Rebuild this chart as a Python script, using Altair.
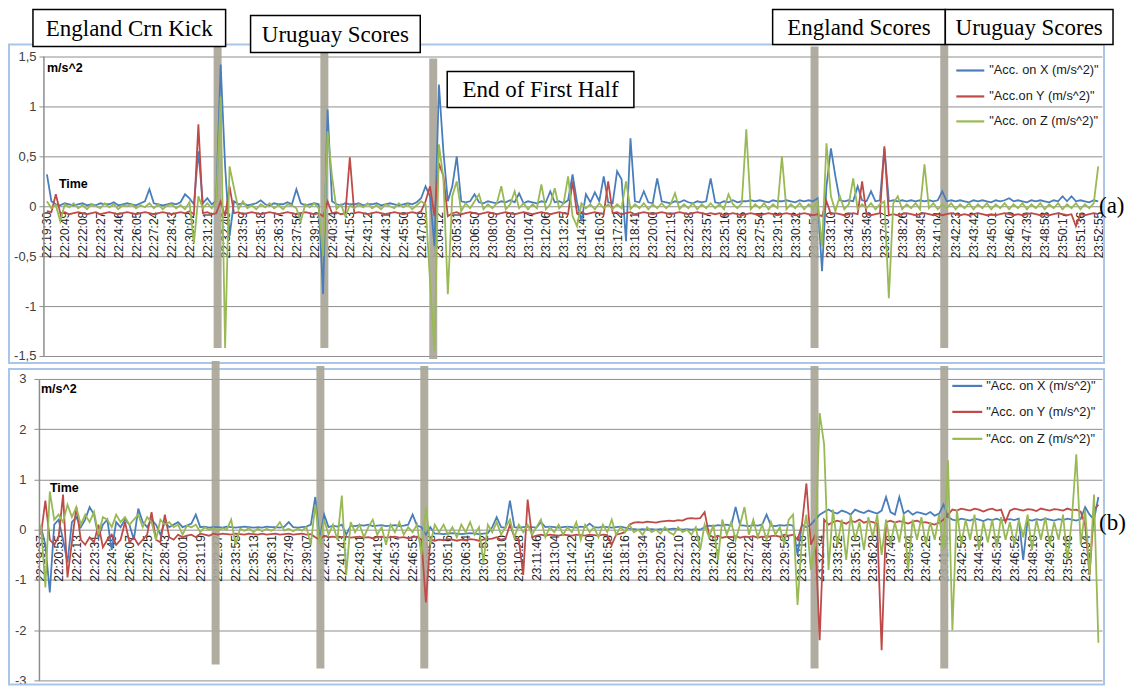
import altair as alt
import pandas as pd

# ------------------------------------------------------------------ data
TOP_TIME_LABELS = ["22:19:30", "22:20:49", "22:22:08", "22:23:27", "22:24:46", "22:26:05", "22:27:24",
                   "22:28:43", "22:30:02", "22:31:21", "22:32:40", "22:33:59", "22:35:18", "22:36:37",
                   "22:37:56", "22:39:15", "22:40:34", "22:41:53", "22:43:12", "22:44:31", "22:45:50",
                   "22:47:09", "23:04:12", "23:05:31", "23:06:50", "23:08:09", "23:09:28", "23:10:47",
                   "23:12:06", "23:13:25", "23:14:44", "23:16:03", "23:17:22", "23:18:41", "23:20:00",
                   "23:21:19", "23:22:38", "23:23:57", "23:25:16", "23:26:35", "23:27:54", "23:29:13",
                   "23:30:32", "23:31:51", "23:33:10", "23:34:29", "23:35:48", "23:37:07", "23:38:26",
                   "23:39:45", "23:41:04", "23:42:23", "23:43:42", "23:45:01", "23:46:20", "23:47:39",
                   "23:48:58", "23:50:17", "23:51:36", "23:52:55"]
BOT_TIME_LABELS = ["22:19:37", "22:20:55", "22:22:13", "22:23:31", "22:24:49", "22:26:07", "22:27:25",
                   "22:28:43", "22:30:01", "22:31:19", "22:32:37", "22:33:55", "22:35:13", "22:36:31",
                   "22:37:49", "22:39:07", "22:40:25", "22:41:43", "22:43:01", "22:44:19", "22:45:37",
                   "22:46:55", "23:03:58", "23:05:16", "23:06:34", "23:07:52", "23:09:10", "23:10:28",
                   "23:11:46", "23:13:04", "23:14:22", "23:15:40", "23:16:58", "23:18:16", "23:19:34",
                   "23:20:52", "23:22:10", "23:23:28", "23:24:46", "23:26:04", "23:27:22", "23:28:40",
                   "23:29:58", "23:31:16", "23:32:34", "23:33:52", "23:35:10", "23:36:28", "23:37:46",
                   "23:39:04", "23:40:22", "23:41:40", "23:42:58", "23:44:16", "23:45:34", "23:46:52",
                   "23:48:10", "23:49:28", "23:50:46", "23:52:04"]

TOP_SERIES = ['"Acc. on X (m/s^2)"', '"Acc.on Y (m/s^2)"', '"Acc. on Z (m/s^2)"']
BOT_SERIES = ['"Acc. on X (m/s^2)"', '"Acc. on Y (m/s^2)"', '"Acc. on Z (m/s^2)"']

TOP_Y_LABELS = ["-1,5", "-1", "-0,5", "0", "0,5", "1", "1,5"]
TOP_Y_VALUES = [-1.5, -1.0, -0.5, 0.0, 0.5, 1.0, 1.5]
BOT_Y_LABELS = ["-3", "-2", "-1", "0", "1", "2", "3"]
BOT_Y_VALUES = [-3, -2, -1, 0, 1, 2, 3]

SAMPLES_PER_LABEL = 4

TOP_X = [0.32, 0.05, 0.02, 0.01, 0.03, 0.02, 0.01, 0.02, 0.03, 0.01,
         0.02, 0.01, 0.03, 0.02, 0.02, 0.04, 0.01, 0.02, 0.03, 0.02,
         0.01, 0.03, 0.05, 0.17, 0.03, 0.02, 0.01, 0.02, 0.03, 0.02,
         0.04, 0.12, 0.08, 0.02, 0.55, 0.03, 0.08, 0.02, 0.05, 1.42,
         0.40, -0.30, 0.05, 0.02, 0.03, 0.01, 0.02, 0.03, 0.06, 0.02,
         0.01, 0.03, 0.02, 0.02, 0.04, 0.02, 0.17, 0.03, 0.01, 0.02,
         0.03, 0.02, -0.88, 0.97, 0.05, 0.02, 0.01, 0.03, 0.02, 0.02,
         0.03, 0.01, 0.02, 0.02, 0.03, 0.01, 0.02, 0.03, 0.02, 0.01,
         0.02, 0.03, 0.02, 0.04, 0.08, 0.20, 0.10, -0.40, 1.22, 0.55,
         0.05, 0.20, 0.50, 0.05, 0.04, 0.05, 0.12, 0.04, 0.03, 0.05,
         0.04, 0.03, 0.05, 0.04, 0.06, 0.04, 0.13, 0.03, 0.05, 0.04,
         0.03, 0.05, 0.04, 0.15, 0.04, 0.05, 0.03, 0.06, 0.32, 0.04,
         -0.15, 0.12, 0.04, 0.14, 0.05, 0.30, 0.04, 0.03, 0.35, 0.27,
         -0.35, 0.68, 0.05, 0.04, 0.15, 0.04, 0.03, 0.28, 0.05, 0.04,
         0.03, 0.05, 0.04, 0.06, 0.04, 0.03, 0.05, 0.04, 0.05, 0.28,
         0.04, 0.03, 0.05, 0.04, 0.06, 0.04, 0.05, 0.05, 0.06, 0.05,
         0.06, 0.05, 0.04, 0.06, 0.05, 0.05, 0.06, 0.05, 0.04, 0.06,
         0.05, 0.06, 0.05, 0.08, -0.65, 0.20, 0.58, 0.30, 0.06, 0.05,
         0.06, 0.05, 0.20, 0.06, 0.05, 0.15, 0.05, 0.06, 0.58, 0.05,
         0.06, 0.05, 0.06, 0.05, 0.06, 0.05, 0.06, 0.05, 0.06, 0.05,
         0.06, 0.15, 0.05, 0.06, 0.05, 0.06, 0.05, 0.04, 0.06, 0.05,
         0.06, 0.05, 0.04, 0.06, 0.05, 0.06, 0.08, 0.05, 0.06, 0.05,
         0.04, 0.06, 0.05, 0.06, 0.05, 0.04, 0.06, 0.05, 0.10, 0.05,
         0.10, 0.05, 0.06, 0.05, 0.04, 0.06, 0.05]
TOP_Y = [-0.05, -0.06, 0.12, -0.07, -0.06, -0.08, -0.07, -0.06, -0.07, -0.08,
         -0.07, -0.06, -0.08, -0.07, -0.06, -0.07, -0.08, -0.07, -0.06, -0.07,
         -0.08, -0.07, -0.06, -0.07, -0.08, -0.07, -0.06, -0.07, -0.08, -0.07,
         -0.06, -0.07, -0.05, -0.08, 0.82, -0.07, -0.06, -0.08, -0.07, 0.05,
         -0.10, 0.20, -0.07, -0.06, -0.08, -0.07, -0.06, -0.07, -0.08, -0.07,
         -0.06, -0.07, -0.08, -0.07, -0.06, -0.07, -0.08, -0.07, -0.06, -0.07,
         -0.08, -0.07, -0.10, 0.05, -0.07, -0.06, -0.08, -0.07, 0.49, -0.07,
         -0.06, -0.07, -0.08, -0.07, -0.06, -0.07, -0.08, -0.07, -0.06, -0.07,
         -0.08, -0.07, -0.06, -0.07, -0.05, 0.05, 0.20, -0.10, 0.43, 0.30,
         -0.10, -0.07, -0.06, -0.08, -0.07, -0.06, -0.07, -0.08, -0.07, -0.06,
         -0.07, -0.08, -0.07, -0.06, -0.07, -0.08, -0.07, -0.06, -0.07, -0.08,
         -0.07, -0.06, -0.07, -0.08, -0.07, -0.06, -0.07, -0.08, 0.25, -0.07,
         -0.06, -0.08, -0.07, -0.06, -0.07, -0.08, 0.25, -0.07, -0.06, -0.08,
         -0.07, -0.06, -0.08, -0.07, -0.06, -0.07, -0.08, -0.07, -0.06, -0.07,
         -0.08, -0.07, -0.06, -0.07, -0.08, -0.07, -0.06, -0.07, -0.08, -0.07,
         -0.08, -0.07, -0.09, -0.08, -0.07, -0.08, -0.09, -0.08, -0.07, -0.08,
         -0.09, -0.08, -0.07, -0.08, -0.09, -0.08, -0.07, -0.08, -0.09, -0.08,
         -0.07, -0.08, -0.09, -0.08, -0.10, 0.05, -0.08, -0.07, -0.08, -0.09,
         -0.08, -0.07, -0.08, 0.25, -0.08, -0.09, -0.08, -0.07, 0.60, -0.09,
         -0.08, -0.09, -0.08, -0.07, -0.08, -0.09, -0.08, -0.07, -0.08, -0.09,
         -0.08, -0.09, -0.08, -0.07, -0.08, -0.09, -0.08, -0.09, -0.08, -0.07,
         -0.08, -0.09, -0.08, -0.09, -0.08, -0.07, -0.08, -0.09, -0.08, -0.09,
         -0.08, -0.07, -0.08, -0.09, -0.08, -0.09, -0.08, -0.07, -0.08, -0.09,
         -0.08, -0.20, -0.08, -0.09, -0.08, -0.07, -0.08]
TOP_Z = [0.05, -0.02, 0.01, -0.15, 0.02, -0.01, 0.03, -0.02, 0.01, -0.03,
         0.02, 0.00, -0.02, 0.03, -0.01, 0.02, -0.03, 0.01, 0.00, 0.02,
         -0.02, 0.01, -0.01, 0.03, -0.02, 0.02, -0.03, 0.01, 0.02, -0.02,
         0.01, -0.03, 0.04, -0.37, 0.10, -0.02, 0.03, -0.02, 0.05, 1.10,
         -1.42, 0.40, 0.18, -0.03, 0.05, -0.02, 0.01, -0.03, 0.02, -0.01,
         0.03, -0.02, 0.01, -0.03, 0.02, 0.01, -0.02, -0.15, 0.02, -0.01,
         0.03, -0.02, -0.50, 0.75, 0.30, -0.03, 0.02, -0.10, 0.01, -0.02,
         0.02, -0.01, 0.03, -0.02, 0.01, -0.03, 0.02, 0.00, -0.02, 0.03,
         -0.01, 0.02, -0.03, 0.01, 0.05, 0.02, -0.75, -1.45, 0.62, 0.28,
         -0.88, 0.10, 0.25, -0.05, 0.03, -0.02, 0.05, 0.12, -0.03, 0.02,
         -0.02, 0.03, 0.20, -0.03, 0.02, 0.15, -0.02, 0.03, -0.03, 0.02,
         -0.02, 0.22, -0.03, 0.02, 0.18, -0.02, 0.03, 0.30, -0.10, -0.20,
         0.03, -0.02, 0.02, -0.03, 0.03, -0.02, 0.02, -0.03, 0.02, -0.02,
         0.25, -0.03, 0.02, -0.02, 0.03, -0.03, 0.02, -0.02, 0.03, -0.02,
         0.02, 0.13, -0.03, 0.02, -0.02, 0.03, -0.03, 0.02, -0.02, 0.03,
         -0.02, 0.02, -0.03, 0.12, 0.02, -0.02, 0.03, 0.77, -0.03, 0.02,
         -0.02, 0.03, -0.03, 0.02, -0.02, 0.50, -0.03, 0.02, -0.02, 0.03,
         -0.03, 0.02, -0.02, 0.05, -0.40, 0.63, 0.10, -0.05, 0.10, -0.03,
         0.02, 0.28, -0.03, 0.02, -0.02, 0.03, -0.03, 0.02, 0.05, -0.92,
         0.03, 0.10, -0.03, 0.02, -0.02, 0.03, -0.03, 0.42, -0.02, 0.03,
         -0.03, 0.02, -0.02, 0.03, -0.03, 0.02, -0.02, 0.03, -0.03, 0.02,
         -0.02, 0.03, -0.03, 0.02, -0.02, 0.03, -0.03, 0.02, -0.02, 0.03,
         -0.03, 0.02, -0.02, 0.03, -0.03, 0.02, -0.02, 0.03, -0.03, 0.02,
         -0.02, 0.03, -0.03, 0.02, -0.02, 0.03, 0.40]

BOT_X = [0.05, -0.30, -1.25, 0.10, 0.20, -0.20, -0.65, 0.15, 0.25, 0.05,
         0.20, 0.45, 0.30, -0.15, 0.10, 0.20, -0.40, 0.15, 0.05, 0.20,
         0.10, -0.20, 0.42, 0.15, 0.05, 0.20, 0.10, -0.10, 0.15, 0.05,
         0.10, 0.15, 0.05, 0.08, 0.12, 0.30, 0.05, 0.06, 0.04, 0.05,
         0.05, 0.04, 0.06, 0.05, 0.04, 0.05, 0.06, 0.05, 0.04, 0.05,
         0.04, 0.06, 0.05, 0.05, 0.04, 0.06, 0.15, 0.05, 0.04, 0.05,
         0.06, 0.10, 0.65, -0.20, 0.30, 0.05, 0.08, 0.06, 0.10, -0.10,
         0.08, 0.07, 0.09, 0.08, 0.10, 0.07, 0.08, 0.09, 0.07, 0.08,
         0.09, 0.07, 0.08, 0.10, 0.30, 0.08, 0.05, -0.10, 0.05, -0.08,
         -0.08, -0.09, -0.08, -0.07, -0.08, -0.09, -0.08, -0.07, -0.08, -0.09,
         -0.08, -0.07, 0.05, 0.25, 0.05, 0.04, 0.58, 0.05, 0.04, 0.05,
         0.06, 0.05, 0.04, 0.15, 0.05, 0.06, 0.05, 0.04, 0.05, 0.06,
         0.05, 0.04, 0.06, 0.05, 0.12, 0.05, 0.04, 0.06, 0.05, 0.04,
         0.05, 0.06, 0.04, 0.02, 0.01, 0.00, 0.01, 0.00, 0.01, 0.00,
         0.01, 0.00, 0.01, 0.02, 0.01, 0.00, 0.01, 0.00, 0.01, 0.00,
         0.05, 0.08, 0.07, 0.09, 0.08, 0.10, 0.08, 0.45, 0.09, 0.08,
         0.07, 0.09, 0.08, 0.10, 0.30, 0.08, 0.07, 0.09, 0.08, 0.10,
         0.08, -0.50, 0.10, 0.05, 0.10, 0.20, 0.30, 0.35, 0.40, 0.35,
         0.32, 0.38, 0.35, 0.30, 0.40, 0.36, 0.33, 0.38, 0.35, 0.32,
         0.38, 0.65, 0.35, 0.30, 0.65, 0.32, 0.38, 0.30, 0.35, 0.33,
         0.30, 0.35, 0.28, 0.32, 0.50, 0.25, 0.20, 0.18, 0.22, 0.20,
         0.18, 0.22, 0.20, 0.17, 0.21, 0.19, 0.22, 0.18, 0.20, 0.21,
         0.19, 0.22, -0.60, 0.20, 0.18, 0.21, 0.19, 0.22, 0.20, 0.18,
         0.21, 0.19, 0.22, 0.20, 0.18, 0.21, 0.45, 0.30, 0.20, 0.65]
BOT_Y = [-0.10, 0.58, -0.20, -0.30, -0.15, 0.70, -0.95, -0.25, 0.45, -0.20,
         -0.30, -0.15, -0.25, 0.10, -0.35, -0.20, -0.10, -0.30, -0.20, 0.15,
         -0.25, -0.15, -0.30, -0.20, -0.10, 0.35, -0.20, -0.25, 0.30, -0.15,
         -0.20, -0.10, -0.15, -0.12, -0.10, -0.15, -0.08, -0.10, -0.12, -0.08,
         -0.10, -0.08, -0.09, -0.10, -0.08, -0.09, -0.10, -0.08, -0.09, -0.10,
         -0.08, -0.10, -0.09, -0.08, -0.10, -0.09, -0.08, -0.10, -0.09, -0.08,
         -0.10, -0.09, -0.15, -0.20, -0.12, -0.15, -0.14, -0.16, -0.15, -0.14,
         -0.16, -0.15, -0.14, -0.16, -0.15, -0.17, -0.15, -0.14, -0.16, -0.15,
         -0.14, -0.16, -0.15, -0.17, -0.15, -0.14, -0.20, -1.45, -0.20, -0.22,
         -0.20, -0.21, -0.19, -0.20, -0.22, -0.20, -0.21, -0.19, -0.20, -0.22,
         -0.20, -0.19, -0.18, -0.15, -0.20, -0.18, 0.10, -0.15, -0.20, -0.90,
         0.60, -0.15, -0.12, -0.10, -0.12, -0.10, -0.11, -0.12, -0.10, -0.11,
         -0.12, -0.10, -0.11, -0.12, -0.10, -0.11, -0.12, -0.10, -0.11, -0.30,
         -0.10, -0.08, -0.05, 0.10, 0.14, 0.15, 0.14, 0.16, 0.15, 0.14,
         0.16, 0.17, 0.18, 0.17, 0.19, 0.18, 0.22, 0.23, 0.22, 0.23,
         0.35, -0.10, -0.15, -0.12, -0.16, -0.14, -0.15, -0.13, -0.16, -0.14,
         -0.15, -0.13, -0.16, -0.14, -0.15, -0.13, -0.12, -0.14, -0.10, -0.12,
         -0.10, -0.20, 0.10, 0.92, -0.30, -0.10, -2.20, 0.20, 0.10, 0.15,
         0.18, 0.15, 0.12, 0.18, 0.15, 0.20, 0.14, 0.17, 0.15, 0.12,
         -2.40, 0.15, 0.18, 0.14, 0.17, 0.15, 0.12, 0.16, 0.18, 0.14,
         0.15, 0.12, 0.10, 0.14, 0.20, 0.30, 0.40, 0.38, 0.42, 0.40,
         0.38, 0.42, 0.40, 0.36, 0.40, 0.42, 0.38, 0.40, 0.15, 0.38,
         0.42, 0.40, 0.38, 0.41, 0.40, 0.37, 0.42, 0.40, 0.38, 0.41,
         0.40, 0.38, 0.42, 0.39, 0.40, 0.36, 0.10, -0.90, 0.40, 0.50]
BOT_Z = [0.10, -1.15, 0.76, 0.20, 0.30, 0.15, 0.50, 0.25, 0.45, 0.10,
         0.30, 0.15, 0.35, -0.10, 0.25, 0.20, 0.05, 0.30, 0.15, 0.25,
         0.10, 0.20, 0.30, 0.05, 0.25, 0.15, -0.20, 0.20, 0.10, 0.15,
         0.05, 0.10, -0.10, 0.08, 0.05, 0.10, -0.05, 0.05, 0.00, 0.03,
         -0.02, 0.03, 0.00, 0.20, -0.30, 0.02, -0.02, 0.03, -0.05, 0.02,
         -0.03, 0.02, -0.02, 0.03, 0.15, -0.02, 0.02, -0.03, 0.02, -0.02,
         0.05, -0.30, 0.50, -0.30, 0.20, -0.10, 0.10, -0.20, 0.68, -0.90,
         0.15, -0.05, 0.10, -0.15, 0.05, 0.20, -0.10, 0.05, -0.30, 0.10,
         -0.05, 0.15, -0.10, 0.05, -0.05, 0.10, -0.50, 0.45, -0.30, 0.10,
         -0.05, 0.10, -0.10, 0.05, -0.15, 0.10, -0.05, 0.15, -0.10, 0.05,
         -0.65, 0.10, -0.05, 0.15, -0.10, 0.05, 0.20, -0.15, 0.10, -0.05,
         0.10, -0.10, 0.05, 0.20, -0.15, 0.05, -0.05, 0.10, -0.10, 0.05,
         -0.05, 0.15, -0.20, 0.10, -0.05, 0.05, -0.15, 0.10, -0.05, 0.20,
         -0.10, 0.05, -0.05, 0.10, -0.05, 0.00, -0.10, 0.05, -0.05, 0.00,
         -0.08, 0.05, -0.05, -0.10, 0.05, -0.05, 0.00, -0.10, 0.05, -0.40,
         0.10, -0.15, 0.10, -0.60, 0.20, -0.10, 0.15, -0.20, 0.10, 0.45,
         -0.10, 0.20, -0.15, 0.10, -0.20, 0.15, -0.10, 0.05, -0.30, 0.20,
         0.30, -1.50, -0.20, 0.30, -0.80, -0.30, 2.32, 1.70, -0.80, 0.40,
         -0.30, 0.20, -0.60, 0.30, -0.20, 0.15, -0.40, 0.25, -0.15, 0.30,
         -0.50, 0.20, -0.30, 0.15, -0.25, 0.30, -0.80, 0.20, -0.20, 0.25,
         -0.30, 0.15, -0.20, 0.30, -0.40, 1.38, -2.00, 0.40, -0.30, 0.20,
         -0.20, 0.30, -0.40, 0.15, -0.25, 0.20, -0.35, 0.25, -0.20, 0.15,
         -0.30, 0.20, -0.15, 0.30, -0.40, 0.20, -0.20, 0.25, -0.30, 0.15,
         -0.20, 0.30, -0.60, 0.20, 1.50, -0.30, 0.40, -0.90, 0.70, -2.25]

EVENT_NAMES = ["England Crn Kick", "Uruguay Scores", "End of First Half", "England Scores", "Uruguay Scores"]
TOP_EVENT_T = [9.58, 15.57, 21.68, 43.08, 50.36]
BOT_EVENT_T = [9.87, 15.79, 21.66, 43.71, 51.04]

COLORS = ["#4A7EBB", "#BE4B48", "#98B954"]

# ------------------------------------------------------------------ layout (page pixels)
PLOT_LEFT = 38
PLOT_W = 1065
GRID = "#8E8E8E"
FRAME = "#A9C5E8"
BAR = "#A9A698"

TOP = dict(top=55, h=300, ymin=-1.5, ymax=1.5, x0=-0.448, per=17.85)
BOT = dict(top=378, h=302, ymin=-3.0, ymax=3.0, x0=-0.113, per=17.73)


def tx(p, px):
    return p["x0"] + (px - PLOT_LEFT) / p["per"]


def ty(p, py):
    return p["ymax"] - (py - p["top"]) * (p["ymax"] - p["ymin"]) / p["h"]


def build_panel(p, labels, series, values, ylabels, yvals, event_t, bar_ext,
                legend_px, units_px, time_px, tag_px, tag, boxes, frame_px, top_panel):
    xdom = [p["x0"], p["x0"] + PLOT_W / p["per"]]
    label_expr = "[" + ",".join("'%s'" % s for s in labels) + "][round(datum.value)]"
    ylab_expr = "[" + ",".join("'%s'" % s for s in ylabels) + "][indexof([" + \
        ",".join(str(v) for v in yvals) + "], datum.value)]"
    zero_off = -(p["h"] * (0 - p["ymin"]) / (p["ymax"] - p["ymin"]))

    xaxis = alt.Axis(values=list(range(len(labels))), labelExpr=label_expr, labelAngle=270,
                     labelOverlap=False, labelFontSize=12, labelFont="Liberation Sans",
                     labelColor="#262626", labelPadding=5, ticks=False, domain=False, grid=False,
                     offset=zero_off, title=None, labelBound=False, labelFlush=False)
    if top_panel:
        yaxis = alt.Axis(values=yvals, labelExpr=ylab_expr, grid=True, gridColor=GRID, gridWidth=1,
                         domain=False, ticks=False, labelPadding=3, title=None, labelFontSize=13,
                         labelColor="#404040", labelFont="Liberation Sans")
    else:
        yaxis = alt.Axis(values=yvals, labelExpr=ylab_expr, grid=True, gridColor=GRID, gridWidth=1,
                         domain=True, domainColor=GRID, domainWidth=1.5, ticks=True, tickSize=5,
                         tickColor=GRID, labelPadding=8, title=None, labelFontSize=13,
                         labelColor="#404040", labelFont="Liberation Sans")
    xs = alt.Scale(domain=xdom, nice=False, zero=False)
    ys = alt.Scale(domain=[p["ymin"], p["ymax"]], nice=False, zero=False)

    def X(f):
        return alt.X(f, type="quantitative", scale=xs, axis=xaxis)

    def Y(f):
        return alt.Y(f, type="quantitative", scale=ys, axis=yaxis)

    layers = []
    # panel frame
    fr = pd.DataFrame([{"x1": tx(p, frame_px[0]), "x2": tx(p, frame_px[1]),
                        "y1": ty(p, frame_px[2]), "y2": ty(p, frame_px[3])}])
    layers.append(alt.Chart(fr).mark_rect(fillOpacity=0, stroke=FRAME, strokeWidth=2, clip=False)
                  .encode(x=X("x1"), x2="x2", y=Y("y1"), y2="y2"))
    # event bars
    hw = 4.0 / p["per"]
    ev = pd.DataFrame([{"name": n, "x1": t - hw, "x2": t + hw, "y1": ty(p, b[0]), "y2": ty(p, b[1])}
                       for n, t, b in zip(EVENT_NAMES, event_t, bar_ext)])
    layers.append(alt.Chart(ev).mark_rect(color=BAR, opacity=0.92, clip=False)
                  .encode(x=X("x1"), x2="x2", y=Y("y1"), y2="y2"))
    # data lines
    for k, (vals, name) in enumerate(zip(values, series)):
        df = pd.DataFrame({"t": [i / SAMPLES_PER_LABEL for i in range(len(vals))], "v": vals})
        layers.append(alt.Chart(df).mark_line(color=COLORS[k], strokeWidth=1.8, clip=True)
                      .encode(x=X("t"), y=Y("v")))
    # top panel vertical axis line
    if top_panel:
        ax = pd.DataFrame([{"x": tx(p, 43), "y1": p["ymin"], "y2": p["ymax"]}])
        layers.append(alt.Chart(ax).mark_rule(color=GRID, strokeWidth=1.5)
                      .encode(x=X("x"), y=Y("y1"), y2="y2"))
    # legend
    lx1, lx2, ltx, lys = legend_px
    lg = pd.DataFrame([{"name": n, "c": c, "x1": tx(p, lx1), "x2": tx(p, lx2), "xt": tx(p, ltx),
                        "y": ty(p, yy)} for n, c, yy in zip(series, COLORS, lys)])
    layers.append(alt.Chart(lg).mark_rule(strokeWidth=2.2, clip=False)
                  .encode(x=X("x1"), x2="x2", y=Y("y"), color=alt.Color("c:N", scale=None, legend=None)))
    layers.append(alt.Chart(lg).mark_text(align="left", baseline="middle", font="Liberation Sans",
                                          fontSize=12.8, color="#1a1a1a", clip=False)
                  .encode(x=X("xt"), y=Y("y"), text="name:N"))
    # unit / Time labels
    lab = pd.DataFrame([{"s": "m/s^2", "x": tx(p, units_px[0]), "y": ty(p, units_px[1])},
                        {"s": "Time", "x": tx(p, time_px[0]), "y": ty(p, time_px[1])}])
    layers.append(alt.Chart(lab).mark_text(align="left", baseline="middle", font="Liberation Sans",
                                           fontSize=12.5, fontWeight="bold", color="#000000")
                  .encode(x=X("x"), y=Y("y"), text="s:N"))
    # event annotation boxes
    if boxes:
        bx = pd.DataFrame([{"s": s, "x1": tx(p, b[0]), "x2": tx(p, b[1]), "y1": ty(p, b[2]), "y2": ty(p, b[3]),
                            "xc": tx(p, (b[0] + b[1]) / 2), "yc": ty(p, (b[2] + b[3]) / 2 + 1)}
                           for s, b in boxes])
        layers.append(alt.Chart(bx).mark_rect(fill="white", stroke="black", strokeWidth=1.5, clip=False)
                      .encode(x=X("x1"), x2="x2", y=Y("y1"), y2="y2"))
        layers.append(alt.Chart(bx).mark_text(align="center", baseline="middle",
                                              font="Liberation Serif, Times New Roman, serif",
                                              fontSize=23, color="black", clip=False)
                      .encode(x=X("xc"), y=Y("yc"), text="s:N"))
    # (a)/(b) tag
    tg = pd.DataFrame([{"s": tag, "x": tx(p, tag_px[0]), "y": ty(p, tag_px[1])}])
    layers.append(alt.Chart(tg).mark_text(align="left", baseline="middle",
                                          font="Liberation Serif, Times New Roman, serif",
                                          fontSize=23, color="black", clip=False)
                  .encode(x=X("x"), y=Y("y"), text="s:N"))
    return alt.layer(*layers).properties(width=PLOT_W, height=p["h"])


top_boxes = [(EVENT_NAMES[0], (32, 225, 8, 45)), (EVENT_NAMES[1], (250, 420, 14, 51)),
             (EVENT_NAMES[2], (447, 634, 70, 106)), (EVENT_NAMES[3], (773, 946, 8, 43)),
             (EVENT_NAMES[4], (946, 1114, 8, 43))]

top_chart = build_panel(
    TOP, TOP_TIME_LABELS, TOP_SERIES, [TOP_X, TOP_Y, TOP_Z], TOP_Y_LABELS, TOP_Y_VALUES, TOP_EVENT_T,
    [(45, 347), (50, 347), (57, 358), (45, 347), (43, 347)],
    (957, 985, 990, [69, 95, 120]), (46, 67), (58, 183), (1100, 205), "(a)", top_boxes,
    (8, 1105, 43, 362), True)

bot_chart = build_panel(
    BOT, BOT_TIME_LABELS, BOT_SERIES, [BOT_X, BOT_Y, BOT_Z], BOT_Y_LABELS, BOT_Y_VALUES, BOT_EVENT_T,
    [(360, 664), (365, 668), (365, 668), (365, 668), (365, 668)],
    (953, 983, 987, [385, 411, 438]), (40, 388), (49, 487), (1100, 522), "(b)", [],
    (8, 1105, 368, 684), False)

chart = alt.vconcat(top_chart, bot_chart, spacing=23, bounds="flush").properties(
    padding=0
).configure_view(stroke=None)

chart.save("out.html", embed_options={"renderer": "svg", "actions": False})
